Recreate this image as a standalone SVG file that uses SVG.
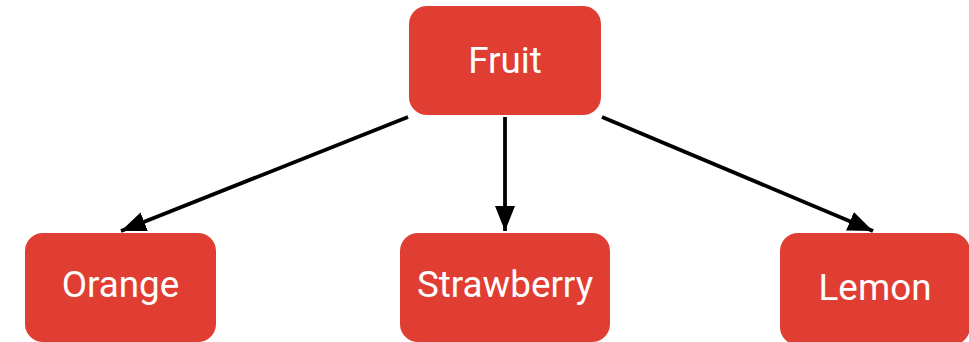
<svg xmlns="http://www.w3.org/2000/svg" width="969" height="342" viewBox="0 0 969 342">
<style>
.box{fill:#e03e33}
.lbl{fill:#ffffff;font-family:Roboto,"Liberation Sans",sans-serif;font-size:36.8px;text-anchor:middle}
.edge{stroke:#000;stroke-width:3.8;fill:none}
</style>
<defs>
<marker id="ah" markerUnits="userSpaceOnUse" markerWidth="26" markerHeight="22" refX="25" refY="10" orient="auto">
<polygon points="0,0 25,10 0,20" fill="#000"/>
</marker>
</defs>
<rect width="969" height="342" fill="#ffffff"/>
<g id="edges">
<line class="edge" x1="408" y1="117" x2="121" y2="231" marker-end="url(#ah)"/>
<line class="edge" x1="505" y1="117" x2="505" y2="231" marker-end="url(#ah)"/>
<line class="edge" x1="602" y1="117" x2="873" y2="231" marker-end="url(#ah)"/>
</g>
<g id="fruit">
<rect class="box" x="409" y="6" width="192" height="109" rx="18"/>
<text class="lbl" x="505" y="73">Fruit</text>
</g>
<g id="orange">
<rect class="box" x="25" y="233" width="191" height="109" rx="18"/>
<text class="lbl" x="120.5" y="297">Orange</text>
</g>
<g id="strawberry">
<rect class="box" x="400" y="233" width="210" height="109" rx="18"/>
<text class="lbl" x="505" y="297">Strawberry</text>
</g>
<g id="lemon">
<rect class="box" x="780" y="233" width="190" height="112" rx="18"/>
<text class="lbl" x="875" y="300">Lemon</text>
</g>
</svg>
